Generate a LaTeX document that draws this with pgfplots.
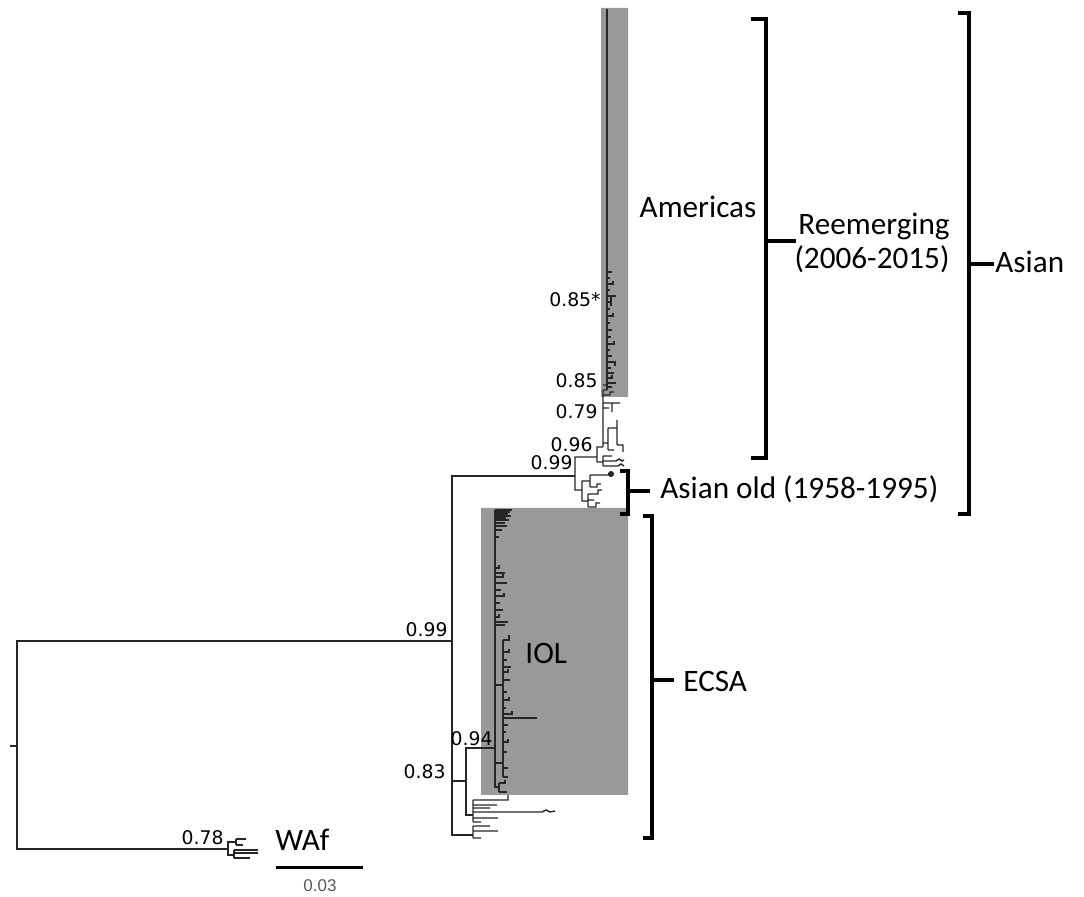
\documentclass[border=0pt]{standalone}
\usepackage{fontspec}
\setmainfont{Carlito}
\newfontfamily\dv{DejaVu Sans}
\newfontfamily\lib{Liberation Sans}
\usepackage{pgfplots}
\pgfplotsset{compat=1.18}
\definecolor{shade}{HTML}{999999}
\definecolor{branch}{HTML}{262626}
\pgfplotsset{
  tree/.style={color=branch,line width=0.7pt,line join=miter},
  brk/.style={color=black,line width=1.6pt,line cap=rect,line join=miter},
}
\tikzset{
  lab/.style={font=\fontsize{15.6}{18}\selectfont,inner sep=0pt},
  sup/.style={font=\dv\fontsize{9.4}{11}\selectfont,inner sep=0pt,anchor=east},
}
\begin{document}
\begin{tikzpicture}
\begin{axis}[width=542pt,height=448.5pt,scale only axis,
  xmin=0,xmax=1084,ymin=0,ymax=897,y dir=reverse,hide axis,clip=false,
  unbounded coords=jump]
% frame of the picture (invisible)
\addplot[draw=none] coordinates {(0,0) (1084,897)};
% shaded clades
\addplot[fill=shade,draw=none] coordinates {(601,8) (628,8) (628,397) (601,397) (601,8)};
\addplot[fill=shade,draw=none] coordinates {(481,508) (628,508) (628,795) (481,795) (481,508)};
% root and backbone
\addplot[tree] table[row sep=\\]{x y\\
10 746\\ 17 746\\ nan nan\\
452 641\\ 17 641\\ 17 849\\ 228 849\\ nan nan\\
575 476\\ 452 476\\ 452 835\\ 473 835\\ nan nan\\
452 781\\ 466 781\\ nan nan\\
495 748\\ 466 748\\ 466 815\\ 473 815\\
};
% IOL clade
\addplot[tree] table[row sep=\\]{x y\\
495 510\\ 495 787\\ 499 787\\ nan nan\\
495 510\\ 512 510\\ nan nan\\
495 512\\ 510 512\\ nan nan\\
495 514\\ 508 514\\ nan nan\\
495 516\\ 511 516\\ nan nan\\
495 518\\ 506 518\\ nan nan\\
495 520\\ 509 520\\ nan nan\\
495 523\\ 505 523\\ nan nan\\
495 526\\ 507 526\\ nan nan\\
495 530\\ 502 530\\ nan nan\\
495 537\\ 499 537\\ nan nan\\
495 568\\ 499 568\\ 499 565\\ nan nan\\
495 573\\ 505 573\\ nan nan\\
495 577\\ 503 577\\ 503 574\\ nan nan\\
495 583\\ 507 583\\ nan nan\\
495 590\\ 501 590\\ nan nan\\
495 596\\ 504 596\\ 504 593\\ nan nan\\
495 603\\ 500 603\\ nan nan\\
495 610\\ 503 610\\ nan nan\\
495 617\\ 499 617\\ 499 614\\ nan nan\\
495 622\\ 508 622\\ nan nan\\
495 625\\ 505 625\\ nan nan\\
495 685\\ 503 685\\ nan nan\\
495 763\\ 503 763\\ nan nan\\
503 640\\ 503 777\\ nan nan\\
503 640\\ 509 640\\ 509 635\\ nan nan\\
503 652\\ 509 652\\ 509 649\\ nan nan\\
503 660\\ 507 660\\ nan nan\\
503 667\\ 511 667\\ nan nan\\
503 672\\ 508 672\\ 508 669\\ nan nan\\
503 680\\ 510 680\\ nan nan\\
503 692\\ 507 692\\ nan nan\\
503 700\\ 509 700\\ 509 697\\ nan nan\\
503 708\\ 506 708\\ nan nan\\
503 714\\ 512 714\\ 512 711\\ nan nan\\
503 718\\ 537 718\\ nan nan\\
503 725\\ 508 725\\ nan nan\\
503 732\\ 506 732\\ nan nan\\
503 742\\ 508 742\\ 508 739\\ nan nan\\
503 752\\ 507 752\\ nan nan\\
503 768\\ 508 768\\ nan nan\\
503 777\\ 508 777\\ nan nan\\
499 783\\ 499 792\\ nan nan\\
499 783\\ 505 783\\ 505 780\\ nan nan\\
499 792\\ 507 792\\
};
% lower ECSA clades
\addplot[tree] table[row sep=\\]{x y\\
473 800\\ 473 822\\ nan nan\\
473 800\\ 508 800\\ 508 795\\ nan nan\\
473 805\\ 497 805\\ nan nan\\
473 808\\ 490 808\\ nan nan\\
473 812\\ 542 812\\ 546 810\\ 550 812\\ 555 811\\ nan nan\\
473 818\\ 498 818\\ nan nan\\
473 822\\ 481 822\\ nan nan\\
473 826\\ 473 838\\ nan nan\\
473 826\\ 490 826\\ nan nan\\
473 831\\ 498 831\\ nan nan\\
473 838\\ 481 838\\
};
% Asian clade
\addplot[tree] table[row sep=\\]{x y\\
597 457\\ 575 457\\ 575 490\\ 582 490\\ nan nan\\
590 481\\ 582 481\\ 582 501\\ 588 501\\ nan nan\\
590 475\\ 590 487\\ nan nan\\
590 475\\ 610 475\\ nan nan\\
590 487\\ 597 487\\ 597 484\\ 601 484\\ nan nan\\
588 494\\ 588 507\\ nan nan\\
588 494\\ 598 494\\ 598 490\\ 602 490\\ nan nan\\
588 500\\ 594 500\\ nan nan\\
588 507\\ 596 507\\ 596 503\\ 600 503\\ nan nan\\
603 447\\ 597 447\\ 597 462\\ 603 462\\ nan nan\\
603 456\\ 603 466\\ nan nan\\
603 456\\ 612 456\\ nan nan\\
603 461\\ 616 461\\ 619 459\\ 622 461\\ 624 460\\ nan nan\\
603 466\\ 618 466\\ 621 464\\ 624 466\\ nan nan\\
603 447\\ 603 390\\ nan nan\\
603 443\\ 608 443\\ nan nan\\
608 428\\ 608 450\\ nan nan\\
608 428\\ 617 428\\ nan nan\\
617 420\\ 617 445\\ nan nan\\
617 445\\ 623 445\\ 623 452\\ nan nan\\
608 450\\ 614 450\\ nan nan\\
603 403\\ 620 403\\ nan nan\\
612 403\\ 612 412\\ nan nan\\
603 408\\ 609 408\\ nan nan\\
603 390\\ 607 390\\ nan nan\\
603 395\\ 610 395\\ 610 392\\ 614 392\\ nan nan\\
603 385\\ 606 385\\
};
\addplot[only marks,mark=*,mark size=1.3pt,color=branch] coordinates {(611,474)};
% Americas clade
\addplot[color=branch,line width=1.1pt] coordinates {(607,390) (607,9)};
\addplot[tree] table[row sep=\\]{x y\\
607 272\\ 612 272\\ nan nan\\
607 278\\ 610 278\\ nan nan\\
607 284\\ 613 284\\ 613 281\\ nan nan\\
607 290\\ 610 290\\ nan nan\\
607 296\\ 616 296\\ nan nan\\
611 296\\ 611 306\\ nan nan\\
607 302\\ 612 302\\ nan nan\\
607 309\\ 610 309\\ nan nan\\
607 316\\ 613 316\\ 613 313\\ nan nan\\
607 323\\ 610 323\\ nan nan\\
607 330\\ 612 330\\ nan nan\\
607 337\\ 611 337\\ nan nan\\
607 344\\ 614 344\\ 614 341\\ nan nan\\
607 350\\ 610 350\\ nan nan\\
607 356\\ 612 356\\ nan nan\\
607 362\\ 615 362\\ 615 366\\ nan nan\\
607 368\\ 611 368\\ nan nan\\
607 373\\ 614 373\\ nan nan\\
607 378\\ 612 378\\ 612 375\\ nan nan\\
607 383\\ 616 383\\ nan nan\\
607 387\\ 612 387\\
};
% WAf clade
\addplot[tree] table[row sep=\\]{x y\\
236 842\\ 228 842\\ 228 855\\ 234 855\\ nan nan\\
236 839\\ 236 845\\ nan nan\\
236 839\\ 246 839\\ nan nan\\
236 845\\ 243 845\\ nan nan\\
234 850\\ 234 858\\ nan nan\\
234 850\\ 258 850\\ nan nan\\
234 853\\ 258 853\\ nan nan\\
234 858\\ 250 858\\
};
% brackets
\addplot[brk] coordinates {(753,19) (766,19) (766,458) (753,458)};
\addplot[brk] coordinates {(766,241) (794,241)};
\addplot[brk] coordinates {(960,13) (969,13) (969,514) (960,514)};
\addplot[brk] coordinates {(969,264) (992,264)};
\addplot[brk] coordinates {(622,471) (628,471) (628,514) (622,514)};
\addplot[brk] coordinates {(628,491) (648,491)};
\addplot[brk] coordinates {(645,516) (652,516) (652,838) (645,838)};
\addplot[brk] coordinates {(652,680) (672,680)};
% scale bar
\addplot[color=black,line width=1.5pt] coordinates {(276,868) (363,868)};
% labels
\node[lab,anchor=base] at (axis cs:698,218) {Americas};
\node[lab,anchor=base] at (axis cs:874,235) {Reemerging};
\node[lab,anchor=base] at (axis cs:872,269) {(2006-2015)};
\node[lab,anchor=base west] at (axis cs:995,273) {Asian};
\node[lab,anchor=base west] at (axis cs:660,499) {Asian old (1958-1995)};
\node[lab,anchor=base west] at (axis cs:525,664) {IOL};
\node[lab,anchor=base west] at (axis cs:683,692) {ECSA};
\node[lab,anchor=base west] at (axis cs:275,851) {WAf};
\node[font=\lib\fontsize{8.5}{10}\selectfont,text=black!65,anchor=base,inner sep=0pt] at (axis cs:320,892) {0.03};
\node[sup] at (axis cs:601,300) {0.85*};
\node[sup] at (axis cs:598,381) {0.85};
\node[sup] at (axis cs:598,412) {0.79};
\node[sup] at (axis cs:593,445) {0.96};
\node[sup] at (axis cs:573,463) {0.99};
\node[sup] at (axis cs:448,630) {0.99};
\node[sup] at (axis cs:493,739) {0.94};
\node[sup] at (axis cs:446,772) {0.83};
\node[sup] at (axis cs:224,838) {0.78};
\end{axis}
\end{tikzpicture}
\end{document}
